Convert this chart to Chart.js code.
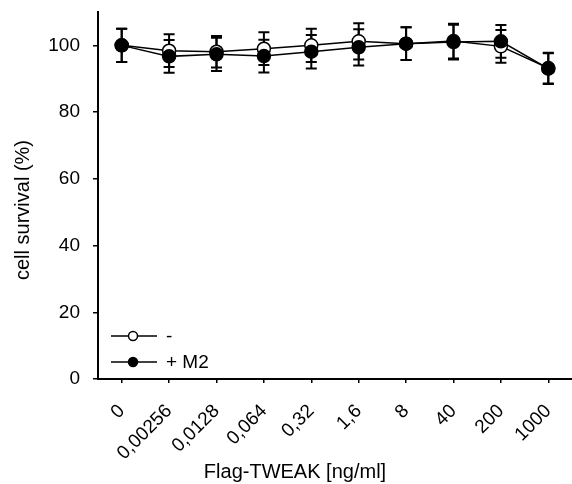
<!DOCTYPE html>
<html>
<head>
<meta charset="utf-8">
<script src="https://cdn.jsdelivr.net/npm/chart.js@4/dist/chart.umd.min.js"></script>
<style>
  html, body { margin: 0; padding: 0; background: #fff; }
  #wrap { width: 572px; height: 484px; position: relative; }
</style>
</head>
<body>
<div id="wrap"><canvas id="c"></canvas></div>
<script>
  // concentrations of Flag-TWEAK (ng/ml), comma decimals as printed
  const doses = ['0', '0,00256', '0,0128', '0,064', '0,32', '1,6', '8', '40', '200', '1000'];

  // survival without M2 (open circles)
  const ctrlMean = [100, 98.4, 98.1, 99.0, 100.0, 101.2, 100.5, 101.3, 99.7, 93.2];
  const ctrlErr  = [5.0, 4.9, 4.7, 4.9, 5.0, 5.4, 4.9, 5.2, 4.9, 4.6];

  // survival with M2 (filled circles)
  const m2Mean = [100, 96.7, 97.3, 96.8, 98.1, 99.4, 100.5, 101.0, 101.2, 93.0];
  const m2Err  = [5.0, 4.9, 5.0, 4.9, 5.0, 5.4, 4.9, 5.2, 4.9, 4.6];

  const yTicks = [0, 20, 40, 60, 80, 100];

  const FONT = '"Liberation Sans", Arial, Helvetica, sans-serif';
  const FS = 19;

  // whiskers with caps, drawn under the markers
  const errorBars = {
    id: 'errorBars',
    beforeDatasetsDraw(chart) {
      const { ctx } = chart;
      const y = chart.scales.y;
      ctx.save();
      ctx.strokeStyle = '#000';
      ctx.lineWidth = 2;
      chart.data.datasets.forEach((ds, di) => {
        const meta = chart.getDatasetMeta(di);
        meta.data.forEach((pt, i) => {
          const e = ds.err[i];
          const top = y.getPixelForValue(ds.data[i] + e);
          const bot = y.getPixelForValue(ds.data[i] - e);
          ctx.beginPath();
          ctx.moveTo(pt.x, top); ctx.lineTo(pt.x, bot);
          ctx.moveTo(pt.x - 5.5, top); ctx.lineTo(pt.x + 5.5, top);
          ctx.moveTo(pt.x - 5.5, bot); ctx.lineTo(pt.x + 5.5, bot);
          ctx.stroke();
        });
      });
      ctx.restore();
    }
  };

  // legend in the lower-left corner of the plot, plus both axis titles
  const decor = {
    id: 'decor',
    afterDraw(chart) {
      const { ctx, chartArea: a } = chart;
      ctx.save();
      ctx.fillStyle = '#000';
      ctx.strokeStyle = '#000';
      ctx.font = FS + 'px ' + FONT;
      ctx.textBaseline = 'middle';
      const rows = [
        { text: '-', fill: '#fff', y: a.bottom - 43 },
        { text: '+ M2', fill: '#000', y: a.bottom - 17 }
      ];
      rows.forEach(r => {
        ctx.lineWidth = 1.5;
        ctx.beginPath();
        ctx.moveTo(a.left + 13, r.y); ctx.lineTo(a.left + 59, r.y);
        ctx.stroke();
        ctx.beginPath();
        ctx.arc(a.left + 35, r.y, 4.5, 0, Math.PI * 2);
        ctx.fillStyle = r.fill;
        ctx.fill();
        ctx.stroke();
        ctx.fillStyle = '#000';
        ctx.textAlign = 'left';
        ctx.fillText(r.text, a.left + 68, r.y + 1);
      });

      ctx.textAlign = 'center';
      ctx.font = '20px ' + FONT;
      ctx.fillText('Flag-TWEAK [ng/ml]', 295, 472);

      ctx.translate(23, 210);
      ctx.rotate(-Math.PI / 2);
      ctx.fillText('cell survival (%)', 0, 0);
      ctx.restore();
    }
  };

  // drop the label overhang padding so the plot box is exactly the axis box
  function noPad(s) { s.paddingTop = 0; s.paddingBottom = 0; s.paddingLeft = 0; s.paddingRight = 0; }

  new Chart(document.getElementById('c'), {
    type: 'line',
    data: {
      labels: doses,
      datasets: [
        {
          label: '-', data: ctrlMean, err: ctrlErr, order: 1,
          borderColor: '#000', borderWidth: 1.5, backgroundColor: '#fff',
          pointRadius: 6.5, pointBorderWidth: 1.5, pointBackgroundColor: '#fff', pointBorderColor: '#000'
        },
        {
          label: '+ M2', data: m2Mean, err: m2Err, order: 0,
          borderColor: '#000', borderWidth: 1.5, backgroundColor: '#000',
          pointRadius: 6.5, pointBorderWidth: 1.5, pointBackgroundColor: '#000', pointBorderColor: '#000'
        }
      ]
    },
    options: {
      responsive: true, maintainAspectRatio: false, animation: false,
      layout: { autoPadding: false, padding: { top: 12, right: -3, left: 0, bottom: 0 } },
      plugins: { legend: { display: false }, tooltip: { enabled: false } },
      scales: {
        x: {
          type: 'category', offset: true,
          grid: { display: true, drawOnChartArea: false, drawTicks: true, tickLength: 4, color: '#000', lineWidth: 1.5 },
          border: { color: '#000', width: 2 },
          ticks: { color: '#000', font: { family: FONT, size: FS }, minRotation: 45, maxRotation: 45, padding: 17, autoSkip: false },
          afterFit(s) { s.height = 105; noPad(s); }
        },
        y: {
          min: 0, max: 110,
          afterBuildTicks(s) { s.ticks = yTicks.map(v => ({ value: v })); },
          grid: { display: true, drawOnChartArea: false, drawTicks: true, tickLength: 5, color: '#000', lineWidth: 1.5 },
          border: { color: '#000', width: 2 },
          ticks: { color: '#000', font: { family: FONT, size: FS }, padding: 13 },
          afterFit(s) { s.width = 98; noPad(s); }
        }
      }
    },
    plugins: [errorBars, decor]
  });
</script>
</body>
</html>
